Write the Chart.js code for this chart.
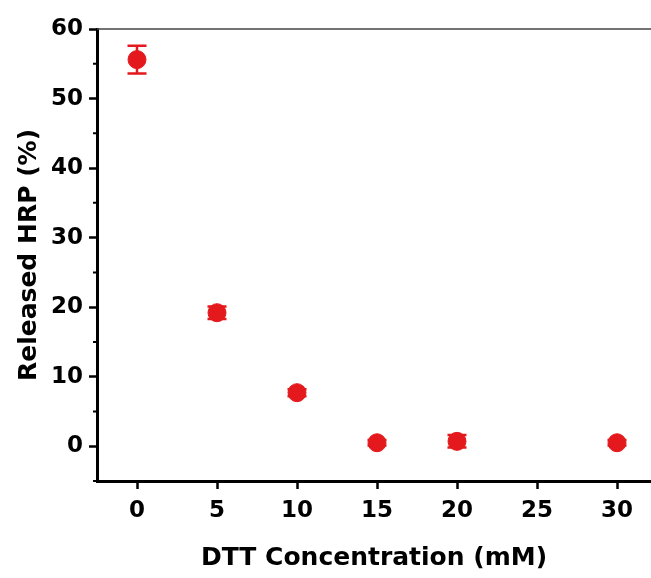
<!DOCTYPE html>
<html>
<head>
<meta charset="utf-8">
<script src="https://cdn.jsdelivr.net/npm/chart.js@4"></script>
<style>
  html, body { margin: 0; padding: 0; background: #fff; }
  #wrap { width: 651px; height: 578px; }
</style>
</head>
<body>
<div id="wrap"><canvas id="myChart" width="651" height="578"></canvas></div>
<script>
// data
const dttConc = [0, 5, 10, 15, 20, 30]
const releasedHrp = [55.6, 19.2, 7.7, 0.5, 0.7, 0.5]
const hrpError = [2.0, 0.9, 0.5, 0.4, 0.9, 0.4]
const xTicks = [0, 5, 10, 15, 20, 25, 30]
const yTicks = [0, 10, 20, 30, 40, 50, 60]
const yMinorTicks = [-5, 5, 15, 25, 35, 45, 55]

const red = '#e3191e'

const points = []
for (let i = 0; i < dttConc.length; i++) {
    points.push({ x: dttConc[i], y: releasedHrp[i] })
}

// error bars + minor ticks + top frame line
const extras = {
    id: 'extras',
    beforeDatasetsDraw(chart) {
        const ctx = chart.ctx
        const xs = chart.scales.x
        const ys = chart.scales.y
        ctx.save()
        ctx.strokeStyle = red
        ctx.lineWidth = 2.5
        for (let i = 0; i < dttConc.length; i++) {
            const px = xs.getPixelForValue(dttConc[i])
            const top = ys.getPixelForValue(releasedHrp[i] + hrpError[i])
            const bot = ys.getPixelForValue(releasedHrp[i] - hrpError[i])
            ctx.beginPath()
            ctx.moveTo(px, top); ctx.lineTo(px, bot)
            ctx.moveTo(px - 9.5, top); ctx.lineTo(px + 9.5, top)
            ctx.moveTo(px - 9.5, bot); ctx.lineTo(px + 9.5, bot)
            ctx.stroke()
        }
        ctx.restore()
    },
    afterDraw(chart) {
        const ctx = chart.ctx
        const ys = chart.scales.y
        const area = chart.chartArea
        ctx.save()
        ctx.strokeStyle = '#000'
        ctx.lineWidth = 2
        ctx.beginPath()
        yMinorTicks.forEach(v => {
            const py = ys.getPixelForValue(v)
            ctx.moveTo(area.left - 4, py)
            ctx.lineTo(area.left, py)
        })
        ctx.stroke()
        ctx.strokeStyle = '#444'
        ctx.lineWidth = 1.5
        ctx.beginPath()
        ctx.moveTo(area.left, area.top)
        ctx.lineTo(area.right, area.top)
        ctx.stroke()
        ctx.restore()
    }
}

const font = { family: 'DejaVu Sans, sans-serif', size: 23, weight: 'bold' }
const titleFont = { family: 'DejaVu Sans, sans-serif', size: 25, weight: 'bold' }

const ctx = document.getElementById('myChart').getContext('2d')
const myChart = new Chart(ctx, {
    type: 'scatter',
    data: {
        datasets: [{
            data: points,
            backgroundColor: red,
            borderColor: red,
            pointRadius: 9,
            pointHoverRadius: 9
        }]
    },
    options: {
        responsive: false,
        animation: false,
        layout: { autoPadding: false, padding: { top: 29, right: 0, left: 0, bottom: 0 } },
        plugins: { legend: { display: false }, tooltip: { enabled: false } },
        scales: {
            x: {
                type: 'linear',
                min: -2.5,
                max: 32.125,
                afterBuildTicks: (axis) => { axis.ticks = xTicks.map(v => ({ value: v })) },
                afterFit: (axis) => {
                    axis.height = 97
                    axis.paddingLeft = 0
                    axis.paddingRight = 0
                },
                border: { display: true, color: '#000', width: 3 },
                grid: { drawOnChartArea: false, drawTicks: true, tickLength: 8, tickColor: '#000', tickWidth: 2.5 },
                ticks: { color: '#000', font: font, padding: 8, maxRotation: 0 },
                title: { display: true, text: 'DTT Concentration (mM)', color: '#000', font: titleFont, padding: { top: 14, bottom: 5 } }
            },
            y: {
                min: -5,
                max: 60,
                afterBuildTicks: (axis) => { axis.ticks = yTicks.map(v => ({ value: v })) },
                afterFit: (axis) => {
                    axis.width = 97
                    axis.paddingTop = 0
                    axis.paddingBottom = 0
                },
                border: { display: true, color: '#000', width: 3 },
                grid: { drawOnChartArea: false, drawTicks: true, tickLength: 8, tickColor: '#000', tickWidth: 2.5 },
                ticks: { color: '#000', font: font, padding: 6 },
                title: { display: true, text: 'Released HRP (%)', color: '#000', font: titleFont, padding: { top: 14, bottom: 2 } }
            }
        }
    },
    plugins: [extras]
})
</script>
</body>
</html>
